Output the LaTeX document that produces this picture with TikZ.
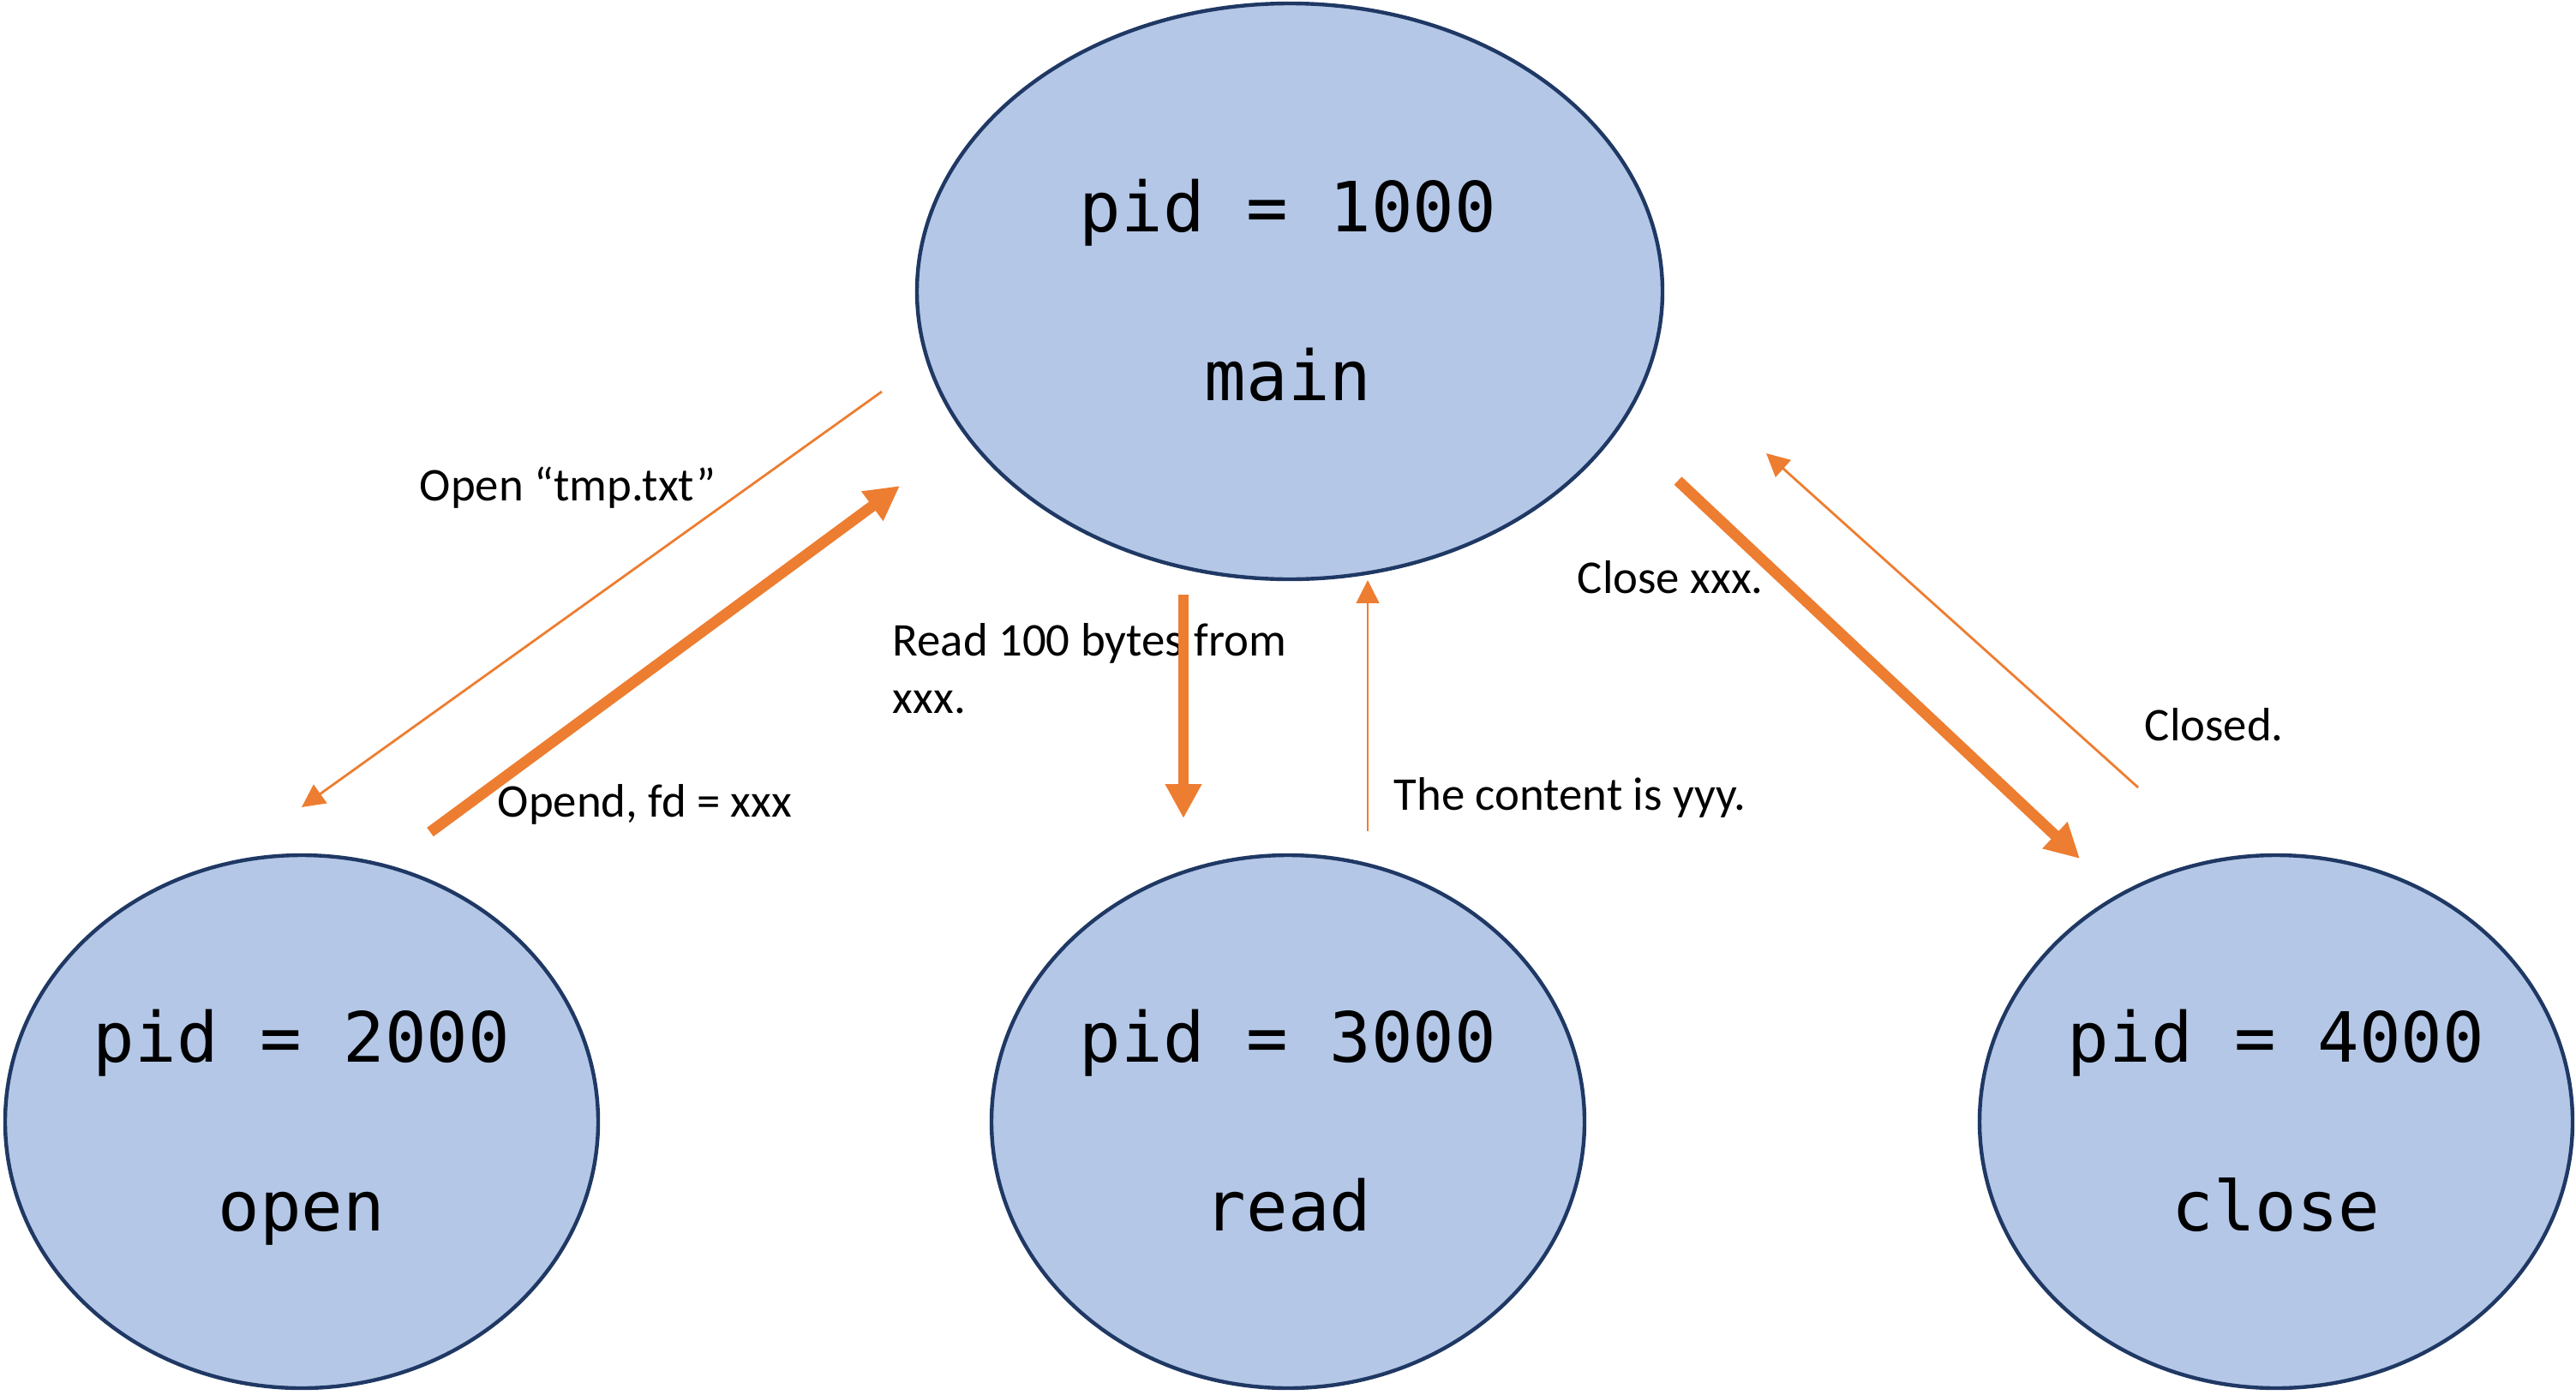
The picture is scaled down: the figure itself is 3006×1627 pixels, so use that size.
\documentclass[tikz,border=0pt]{standalone}
\usepackage{fontspec}
\setmainfont{Carlito}
\newfontfamily\codefont{DejaVu Sans Mono}
\usetikzlibrary{arrows.meta,shapes.geometric}
\definecolor{orng}{HTML}{ED7D31}
\definecolor{bluefill}{HTML}{B4C7E7}
\definecolor{navy}{HTML}{1F3864}
\tikzset{
  proc/.style={ellipse,draw=navy,fill=bluefill,line width=1.1pt,inner sep=0pt},
  bigproc/.style={proc,minimum width=217.5pt,minimum height=168pt},
  smallproc/.style={proc,minimum width=173pt,minimum height=155.5pt},
  code/.style={font=\codefont\fontsize{20.2pt}{24pt}\selectfont,inner sep=0pt,anchor=base},
  lbl/.style={font=\fontsize{13.7pt}{16.7pt}\selectfont,inner sep=0pt,anchor=base west},
  thickarr/.style={draw=orng,line width=3.2pt,-{Triangle[length=10pt,width=10pt]}},
  thinarr/.style={draw=orng,line width=0.7pt,-{Triangle[length=6.7pt,width=6.6pt]}}
}
\begin{document}
\begin{tikzpicture}[x=0.25pt,y=-0.25pt]
\useasboundingbox (0,0) rectangle (3006,1627);
% processes
\node[bigproc] (main) at (1505,340) {};
\node[smallproc] (open) at (352,1309) {};
\node[smallproc] (read) at (1503,1309) {};
\node[smallproc] (close) at (2656,1309) {};
% texts inside
\node[code] (mainpid) at (1503,270) {pid = 1000};
\node[code] (mainname) at (1503,467) {main};
\node[code] (openpid) at (352,1239) {pid = 2000};
\node[code] (openname) at (352,1436) {open};
\node[code] (readpid) at (1503,1239) {pid = 3000};
\node[code] (readname) at (1503,1436) {read};
\node[code] (closepid) at (2656,1239) {pid = 4000};
\node[code] (closename) at (2656,1436) {close};
% labels
\node[lbl] (lopen) at (489,584) {Open “tmp.txt”};
\node[lbl] (lopend) at (580,953) {Opend, fd = xxx};
\node[lbl] (lreada) at (1041,765) {Read 100 bytes from};
\node[lbl] (lreadb) at (1041,832) {xxx.};
\node[lbl] (lcontent) at (1626,945) {The content is yyy.};
\node[lbl] (lclose) at (1840,692) {Close xxx.};
\node[lbl] (lclosed) at (2502,864) {Closed.};
% arrow end points
\coordinate (a1s) at (1029,457);
\coordinate (a1e) at (352,942);
\coordinate (a2s) at (502,971);
\coordinate (a2e) at (1050,567);
\coordinate (a3s) at (1381,694);
\coordinate (a3e) at (1381,955);
\coordinate (a4s) at (1596,970);
\coordinate (a4e) at (1596,677);
\coordinate (a5s) at (1958,561);
\coordinate (a5e) at (2427,1002);
\coordinate (a6s) at (2495,919);
\coordinate (a6e) at (2061,529);
% arrows
\draw[thinarr] (a1s) -- (a1e);
\draw[thickarr] (a2s) -- (a2e);
\draw[thickarr] (a3s) -- (a3e);
\draw[thinarr] (a4s) -- (a4e);
\draw[thickarr] (a5s) -- (a5e);
\draw[thinarr] (a6s) -- (a6e);
\end{tikzpicture}
\end{document}
